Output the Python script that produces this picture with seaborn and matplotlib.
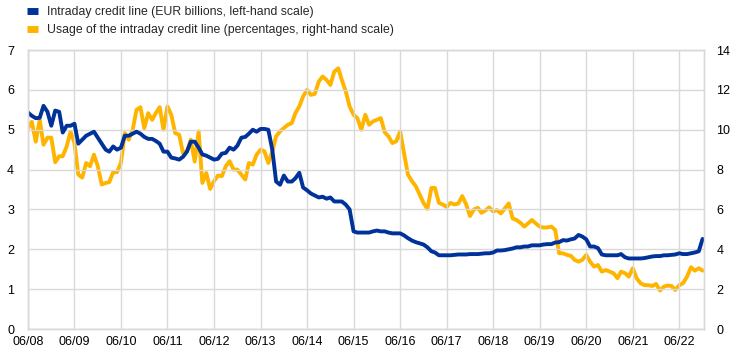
import numpy as np
import pandas as pd
import matplotlib
matplotlib.use('Agg')
import matplotlib.pyplot as plt
from matplotlib.lines import Line2D
import seaborn as sns

# Monatswerte Juni 2008 bis Dezember 2022
credit_line = [
    5.43, 5.35, 5.29, 5.30, 5.60, 5.45, 5.10,
    5.48, 5.45, 4.93, 5.10, 5.10, 5.15, 4.65, 4.75, 4.85, 4.90, 4.95, 4.80,
    4.65, 4.50, 4.45, 4.58, 4.50, 4.55, 4.85, 4.85, 4.90, 4.95, 4.90, 4.82,
    4.77, 4.77, 4.72, 4.65, 4.45, 4.45, 4.30, 4.28, 4.25, 4.32, 4.45, 4.70,
    4.70, 4.55, 4.38, 4.35, 4.30, 4.25, 4.27, 4.40, 4.42, 4.55, 4.50, 4.60,
    4.80, 4.82, 4.90, 5.00, 4.95, 5.02, 5.02, 5.00, 4.50, 3.70, 3.62, 3.85,
    3.70, 3.70, 3.78, 3.92, 3.55, 3.48, 3.40, 3.35, 3.30, 3.32, 3.27, 3.30,
    3.20, 3.20, 3.20, 3.12, 3.00, 2.45, 2.42, 2.42, 2.42, 2.42, 2.45, 2.47,
    2.45, 2.45, 2.42, 2.40, 2.40, 2.40, 2.35, 2.28, 2.22, 2.18, 2.15, 2.12,
    2.05, 1.95, 1.92, 1.85, 1.85, 1.85, 1.85, 1.86, 1.87, 1.87, 1.87, 1.88,
    1.88, 1.88, 1.89, 1.90, 1.90, 1.92, 1.97, 1.97, 1.98, 2.00, 2.02, 2.05,
    2.05, 2.07, 2.07, 2.10, 2.10, 2.10, 2.12, 2.13, 2.13, 2.17, 2.18, 2.23,
    2.22, 2.25, 2.27, 2.36, 2.32, 2.25, 2.07, 2.07, 2.03, 1.87, 1.85, 1.85,
    1.85, 1.85, 1.88, 1.80, 1.77, 1.77, 1.77, 1.77, 1.78, 1.80, 1.82, 1.83,
    1.83, 1.85, 1.85, 1.86, 1.87, 1.90, 1.88, 1.88, 1.90, 1.92, 1.95, 2.26,
]

usage_pct = [
    10.08, 10.4, 9.4, 10.5, 9.25, 9.6, 9.6,
    8.37, 8.67, 8.67, 9.17, 9.9, 9.33, 7.75, 7.6, 8.33, 8.17, 8.75, 8.17,
    7.25, 7.33, 7.37, 7.87, 7.87, 8.33, 9.83, 9.5, 10.0, 11.0, 11.13, 10.08,
    10.83, 10.5, 10.83, 11.13, 10.0, 11.17, 10.75, 9.83, 9.75, 8.83, 8.92, 9.5,
    8.4, 9.92, 7.33, 7.83, 7.03, 7.42, 7.7, 7.67, 8.17, 8.42, 8.0, 8.0,
    7.75, 7.5, 8.33, 8.25, 8.75, 9.0, 8.92, 8.33, 8.92, 9.67, 9.92, 10.08,
    10.25, 10.33, 10.83, 11.17, 11.67, 12.0, 11.75, 11.8, 12.42, 12.67, 12.5, 12.25,
    12.92, 13.08, 12.5, 11.92, 11.17, 10.75, 10.58, 10.0, 10.75, 10.25, 10.42, 10.5,
    10.58, 9.87, 9.67, 9.33, 9.42, 9.92, 8.83, 7.75, 7.42, 7.17, 6.75, 6.33,
    6.03, 7.08, 7.08, 6.33, 6.25, 6.13, 6.33, 6.25, 6.3, 6.67, 6.25, 5.67,
    6.0, 6.08, 5.83, 5.95, 6.1, 5.9, 5.97, 5.8, 6.05, 6.3, 5.55, 5.47,
    5.33, 5.14, 5.3, 5.47, 5.3, 5.14, 5.09, 5.1, 5.14, 4.97, 3.8, 3.8,
    3.72, 3.67, 3.47, 3.38, 3.47, 3.72, 3.38, 3.13, 3.21, 2.88, 2.96, 2.88,
    2.8, 2.55, 2.88, 2.8, 2.63, 3.05, 2.55, 2.3, 2.2, 2.2, 2.16, 2.26,
    1.93, 2.13, 2.18, 2.16, 1.96, 2.2, 2.3, 2.63, 3.1, 2.93, 3.05, 2.93,
]

dates = pd.date_range('2008-06-01', periods=len(credit_line), freq='MS')
tick_dates = pd.date_range('2008-06-01', '2022-06-01', freq='12MS')
tick_labels = [d.strftime('%m/%y') for d in tick_dates]

labels = ['Intraday credit line (EUR billions, left-hand scale)',
          'Usage of the intraday credit line (percentages, right-hand scale)']
blue = '#003299'
yellow = '#ffb400'

df = pd.DataFrame({'date': dates, 'credit': credit_line, 'usage': usage_pct})

sns.set_style('white')
plt.rcParams['font.family'] = ['Liberation Sans', 'DejaVu Sans']
plt.rcParams['font.size'] = 9

fig = plt.figure(figsize=(7.44, 3.55), dpi=100)
ax = fig.add_axes([0.0376, 0.0732, 0.9086, 0.7859])
ax2 = ax.twinx()

sns.lineplot(data=df, x='date', y='credit', ax=ax, color=blue, linewidth=2.8)
sns.lineplot(data=df, x='date', y='usage', ax=ax2, color=yellow, linewidth=2.8)

ax.set_ylim(0, 7)
ax2.set_ylim(0, 14)
ax.set_yticks(range(0, 8))
ax2.set_yticks(range(0, 15, 2))
ax.set_xlim(pd.Timestamp('2008-06-01'), pd.Timestamp('2022-12-12'))
ax.set_xticks(tick_dates)
ax.set_xticklabels(tick_labels)

ax.grid(True, color='#d9d9d9', linewidth=1)
ax2.grid(False)
for a in (ax, ax2):
    a.set_xlabel('')
    a.set_ylabel('')
    a.tick_params(length=0, labelsize=9, colors='black')
    for s in a.spines.values():
        s.set_color('#d9d9d9')
        s.set_linewidth(1)
ax.tick_params(axis='y', pad=10)
ax2.tick_params(axis='y', pad=9)
ax.tick_params(axis='x', pad=5)

# blaue Linie vor die gelbe legen
ax.set_zorder(ax2.get_zorder() + 1)
ax.patch.set_visible(False)

handles = [Line2D([], [], color=blue, linewidth=5, solid_capstyle='butt'),
           Line2D([], [], color=yellow, linewidth=5, solid_capstyle='butt')]
fig.legend(handles, labels, loc='upper left', bbox_to_anchor=(0.021, 1.013),
           frameon=False, handlelength=0.9, handletextpad=0.75,
           labelspacing=0.45, fontsize=8.8)

fig.savefig('out.png', dpi=100)
